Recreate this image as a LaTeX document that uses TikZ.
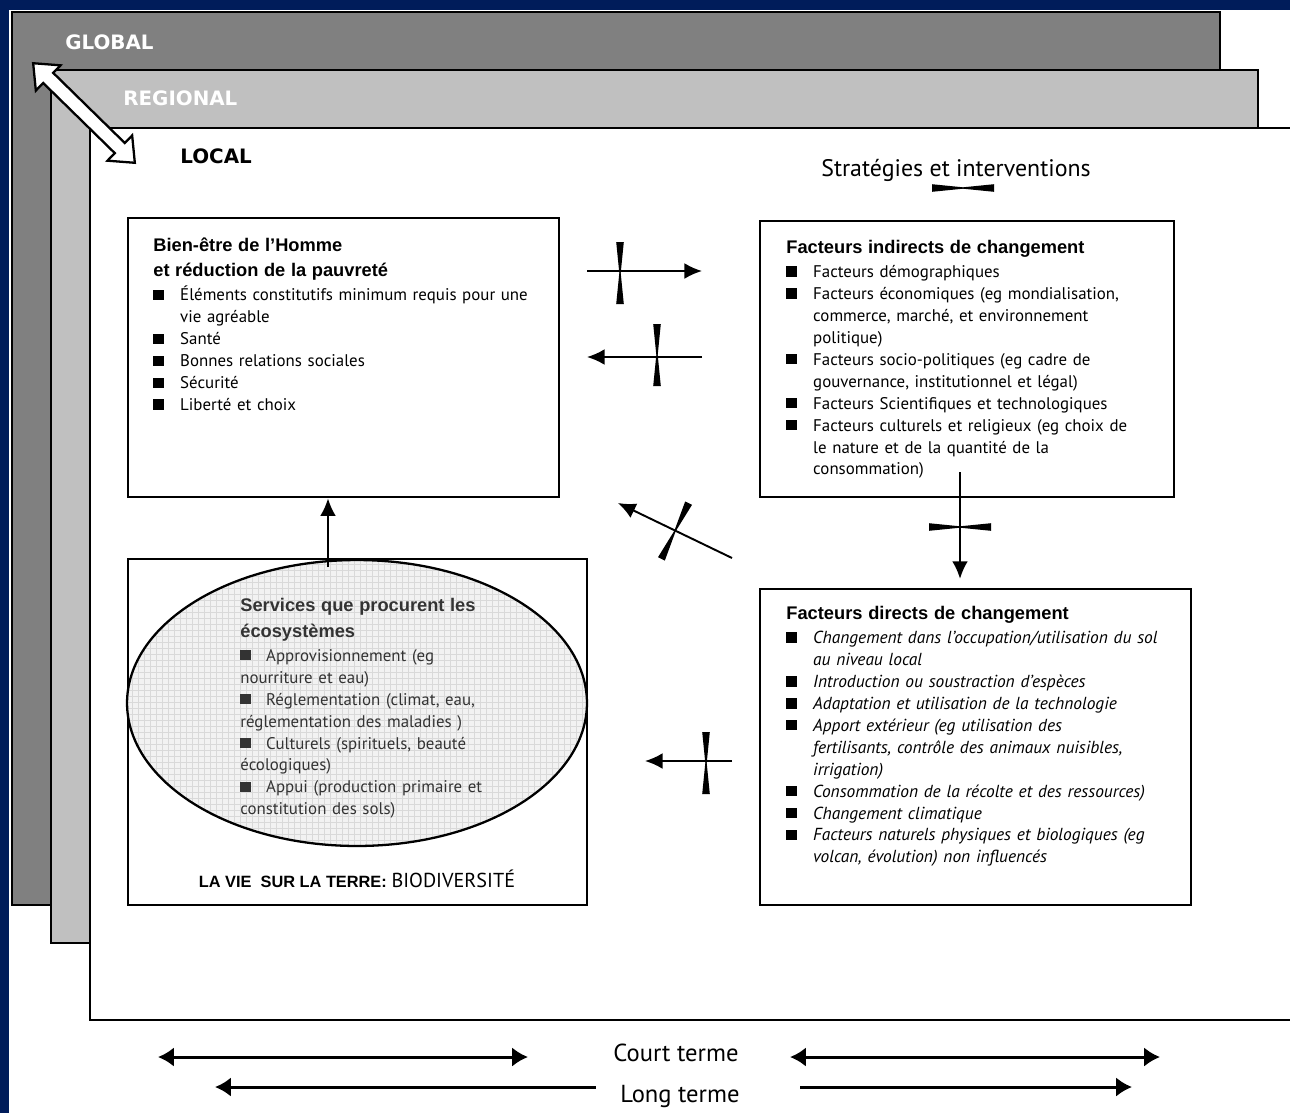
\documentclass[tikz,border=0pt]{standalone}
\usepackage{fontspec}
\setmainfont{PT Sans}
\newfontfamily\arial{Liberation Sans}
\newfontfamily\bd{DejaVu Sans}
\usetikzlibrary{arrows.meta}
\usetikzlibrary{fit}
\usetikzlibrary{shapes.geometric}
\usetikzlibrary{shapes.arrows}

\definecolor{marine}{RGB}{0,28,90}
\definecolor{grisfonce}{RGB}{128,128,128}
\definecolor{grisclair}{RGB}{192,192,192}

\newcommand{\puce}{\raisebox{0.4pt}{\rule{5.8pt}{5.8pt}}}
\newcommand{\titre}[1]{{\arial\bfseries\upshape\fontsize{10.4}{14.7}\selectfont #1\par}\vspace{1pt}}
\newcommand{\elem}[1]{\par\hangindent=15.3pt\hangafter=1\noindent\makebox[15.3pt][l]{\puce}#1\par}
\newcommand{\serv}[1]{\par\noindent\makebox[14.7pt][l]{\puce}#1\par}

\tikzset{
	pics/strategie/.style={
		code={
			\fill (-3.8,-31) -- (3.8,-31) -- (0.7,0) -- (3.8,31) -- (-3.8,31) -- (-0.7,0) -- cycle;
		}
	},
	couche/.style={draw, line width=1.6pt, inner sep=0pt},
	boite/.style={draw, line width=1.6pt, inner sep=0pt},
	niveau/.style={anchor=west, inner sep=0pt, font=\bd\bfseries\fontsize{11.3}{13}\selectfont},
	texte/.style={anchor=north west, inner sep=0pt, text width=9.5cm, align=left, font=\fontsize{9.6}{12.5}\selectfont},
	fleche/.style={line width=1.1pt, -{Latex[length=10pt,width=9pt]}},
	duree/.style={line width=1.7pt, {Latex[length=9pt,width=11pt]}-{Latex[length=9pt,width=11pt]}},
	dureeg/.style={line width=1.7pt, {Latex[length=9pt,width=11pt]}-},
	dureed/.style={line width=1.7pt, -{Latex[length=9pt,width=11pt]}}
}

\begin{document}
\begin{tikzpicture}[x=0.02cm, y=-0.02cm]

	\path[use as bounding box] (0,0) rectangle (1290,1113);
	\clip (0,0) rectangle (1290,1113);
	\fill[marine] (0,0) rectangle (1290,1113);
	\fill[white] (9,10) rectangle (1290,1113);

	% niveaux
	\node[couche, fill=grisfonce, fit={(12,12) (1220,905)}] (global) {};
	\node[couche, fill=grisclair, fit={(51,70) (1258,943)}] (regional) {};
	\node[couche, fill=white, fit={(90,128) (1320,1020)}] (local) {};

	\node[niveau, text=white] (tglobal) at (65,42) {GLOBAL};
	\node[niveau, text=white] (tregional) at (123,98) {REGIONAL};
	\node[niveau] (tlocal) at (180,156) {LOCAL};

	\node[double arrow, draw, fill=white, line width=1.3pt, rotate=-44.4, minimum height=81pt, inner sep=3.4pt, double arrow head extend=6pt, double arrow tip angle=80] (echelle) at (84,113) {};

	% boites
	\node[boite, fit={(128,218) (559,497)}] (bien) {};
	\node[boite, fit={(760,221) (1174,497)}] (indirects) {};
	\node[boite, fit={(128,559) (587,905)}] (terre) {};
	\node[boite, fit={(760,589) (1191,905)}] (directs) {};

	\fill[gray!10] (357,703) ellipse [x radius=230, y radius=143];
	\begin{scope}
		\clip (357,703) ellipse [x radius=230, y radius=143];
		\draw[gray!30, line width=0.3pt, step=0.12cm] (120,850) grid (600,555);
	\end{scope}
	\node[ellipse, draw, line width=1.3pt, minimum width=9.2cm, minimum height=5.72cm, inner sep=0pt] (eco) at (357,703) {};

	\node[texte] (tbien) at (153,237) {
		\titre{Bien-être de l’Homme\newline et réduction de la pauvreté}
		\elem{Éléments constitutifs minimum requis pour une\newline vie agréable}
		\elem{Santé}
		\elem{Bonnes relations sociales}
		\elem{Sécurité}
		\elem{Liberté et choix}
	};

	\node[texte] (tindirects) at (786,240) {
		\titre{Facteurs indirects de changement}
		\elem{Facteurs démographiques}
		\elem{Facteurs économiques (eg mondialisation,\newline commerce, marché, et environnement\newline politique)}
		\elem{Facteurs socio-politiques (eg cadre de\newline gouvernance, institutionnel et légal)}
		\elem{Facteurs Scientifiques et technologiques}
		\elem{Facteurs culturels et religieux (eg choix de\newline le nature et de la quantité de la\newline consommation)}
	};

	\node[texte, font=\fontsize{9.9}{12.5}\selectfont\itshape] (tdirects) at (786,606) {
		\titre{Facteurs directs de changement}
		\elem{Changement dans l’occupation/utilisation du sol\newline au niveau local}
		\elem{Introduction ou soustraction d’espèces}
		\elem{Adaptation et utilisation de la technologie}
		\elem{Apport extérieur (eg utilisation des\newline fertilisants, contrôle des animaux nuisibles,\newline irrigation)}
		\elem{Consommation de la récolte et des ressources)}
		\elem{Changement climatique}
		\elem{Facteurs naturels physiques et biologiques (eg\newline volcan, évolution) non influencés}
	};

	\node[texte, text=black!80] (teco) at (240,598) {
		\titre{Services que procurent les\newline écosystèmes}
		\serv{Approvisionnement (eg\newline nourriture et eau)}
		\serv{Réglementation (climat, eau,\newline réglementation des maladies )}
		\serv{Culturels (spirituels, beauté\newline écologiques)}
		\serv{Appui (production primaire et\newline constitution des sols)}
	};

	\node[inner sep=0pt] (tterre) at (357,879) {{\arial\bfseries\fontsize{9.3}{11}\selectfont LA VIE\ \ SUR LA TERRE:} {\fontsize{11.5}{13}\selectfont BIODIVERSITÉ}};

	\node[inner sep=0pt, font=\fontsize{13.6}{15}\selectfont] (strat) at (956,170) {Stratégies et interventions};
	\pic[rotate=90] at (963,188) {strategie};

	% liens
	\coordinate (a1) at (587,271);
	\coordinate (b1) at (702,271);
	\draw[fleche] (a1) -- (b1);
	\pic at (620,273) {strategie};

	\coordinate (a2) at (702,357);
	\coordinate (b2) at (587,357);
	\draw[fleche] (a2) -- (b2);
	\pic at (657,355) {strategie};

	\coordinate (a3) at (732,558);
	\coordinate (b3) at (618,503);
	\draw[fleche] (a3) -- (b3);
	\pic[rotate=-26] at (675,531) {strategie};

	\coordinate (descend) at (960,472);
	\draw[fleche, shorten >=5pt] (descend) -- (descend |- directs.north);
	\pic[rotate=90] at (960,527) {strategie};

	\coordinate (a4) at (732,761);
	\coordinate (b4) at (645,761);
	\draw[fleche] (a4) -- (b4);
	\pic at (706,763) {strategie};

	\coordinate (monte) at (328,567);
	\draw[fleche] (monte) -- (monte |- bien.south);

	% termes
	\node[inner sep=0pt, font=\fontsize{14}{16}\selectfont] (court) at (676,1053) {Court terme};
	\node[inner sep=0pt, font=\fontsize{14}{16}\selectfont] (long) at (680,1096) {Long terme};

	\coordinate (c1) at (158,1057);
	\coordinate (c2) at (528,1057);
	\coordinate (c3) at (790,1057);
	\coordinate (c4) at (1160,1057);
	\draw[duree] (c1) -- (c2);
	\draw[duree] (c3) -- (c4);

	\coordinate (l1) at (215,1087);
	\coordinate (l2) at (596,1087);
	\coordinate (l3) at (800,1087);
	\coordinate (l4) at (1132,1087);
	\draw[dureeg] (l1) -- (l2);
	\draw[dureed] (l3) -- (l4);

\end{tikzpicture}
\end{document}
